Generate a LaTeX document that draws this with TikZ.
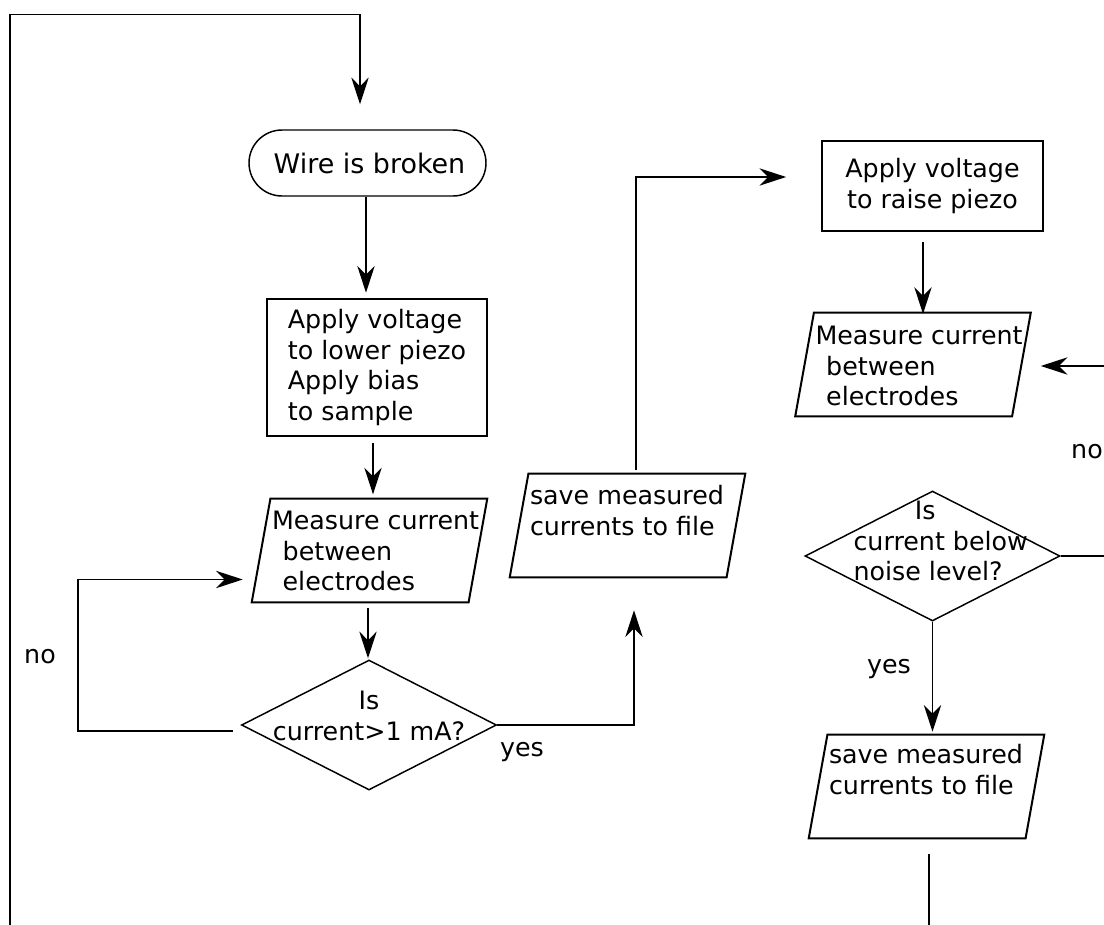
\documentclass[tikz,border=0pt]{standalone}
\usepackage{fontspec}
\setmainfont{DejaVu Sans}
\usetikzlibrary{shapes.misc,shapes.geometric,arrows.meta,calc}
\begin{document}
\begin{tikzpicture}[x=0.75pt,y=-0.75pt,
  every node/.style={font=\fontsize{19}{23.2}\selectfont},
  conn/.style={line width=1.1pt},
  arr/.style={conn,-{Stealth[length=20pt,width=13pt,inset=6.5pt]}},
  pbox/.style={draw=none,minimum width=176.25pt,minimum height=77.25pt,inner sep=0pt},
  pline/.style={line width=1.5pt,line join=miter},
  dia/.style={draw,diamond,line width=1.1pt,minimum width=191.25pt,minimum height=97.5pt,inner sep=0pt},
  txt/.style={align=left,inner sep=0pt,anchor=west},
  lbl/.style={inner sep=0pt}
]
\useasboundingbox (0,0) rectangle (1104,925);

% nodes
\node[draw,rounded rectangle,line width=1.1pt,minimum width=177.75pt,minimum height=49.5pt,inner sep=0pt,font=\fontsize{20.2}{23}\selectfont] (start) at (367.5,163) {\hspace*{3pt}Wire is broken};
\node[draw,line width=2pt,minimum width=165pt,minimum height=102.75pt,inner sep=0pt,align=left] (box1) at (377,367.5) {Apply voltage\\to lower piezo\\Apply bias\\to sample};
\node[draw,line width=1.3pt,minimum width=165.75pt,minimum height=67.5pt,inner sep=0pt,align=center] (box2) at (932.5,186) {Apply voltage\\to raise piezo};

\node[pbox] (P1) at (369.5,550.5) {};
\node[pbox] (P2) at (627.5,525.5) {};
\node[pbox] (P3) at (913,364.5) {};
\node[pbox] (P4) at (926.5,786.5) {};
\foreach \p in {P1,P2,P3,P4}{
  \draw[pline] ([xshift=14pt]\p.north west) -- (\p.north east) -- ([xshift=-14pt]\p.south east) -- (\p.south west) -- cycle;
}
\node[txt] (P1t) at ($(P1.west)+(20,0.5)$) {Measure current\\\hspace*{8pt}between\\\hspace*{8pt}electrodes};
\node[txt] (P2t) at ($(P2.west)+(20,-15)$) {save measured\\currents to file};
\node[txt] (P3t) at ($(P3.west)+(20,1.5)$) {Measure current\\\hspace*{8pt}between\\\hspace*{8pt}electrodes};
\node[txt] (P4t) at ($(P4.west)+(20,-16.5)$) {save measured\\currents to file};

\node[dia] (d1) at (369,725) {};
\node[dia] (d2) at (932.5,556) {};
\node[align=center,inner sep=0pt] (d1t) at ($(d1.center)+(0,-9.5)$) {Is\\current>1 mA?};
\node[txt] (d2t) at ($(d2.west)+(49,-15)$) {\hspace*{46pt}Is\\current below\\noise level?};

% labels
\node[lbl] (no1) at (40,657) {no};
\node[lbl] (yes1) at (522,752) {yes};
\node[lbl] (no2) at (1087,452) {no};
\node[lbl] (yes2) at (889,669) {yes};

% free ends
\coordinate (lbot) at (10,925);
\coordinate (rin) at (1104,366);
\coordinate (rout) at (1104,556);
\coordinate (bot) at (929,925);

% connectors
\draw[arr] (lbot) |- ($(start.north)+(-7.5,-115)$) -- ($(start.north)+(-7.5,-25)$);
\draw[arr] ($(start.south)+(-1.5,0)$) -- ($(start.south)+(-1.5,96)$);
\draw[arr] ($(box1.south)+(-4,6)$) -- ($(box1.south)+(-4,57)$);
\draw[arr] ($(P1.south)+(-1.5,6)$) -- ($(d1.north)+(-1,-1)$);
\draw[arr] ($(d1.west)+(-8,6)$) -- ++(-155,0) |- ($(P1.west)+(-9,29)$);
\draw[arr] (d1.east) -| ($(P2.south)+(6.5,33)$);
\draw[arr] ($(P2.north)+(8.5,-4)$) |- ($(box2.west)+(-35,-9)$);
\draw[arr] ($(box2.south)+(-9.5,10)$) -- ($(box2.south)+(-9.5,82)$);
\draw[arr] (rin) -- ($(P3.east)+(10,1.5)$);
\draw[conn] (d2.east) -- (rout);
\draw[arr] (d2.south) -- ($(d2.south)+(0,110)$);
\draw[conn] ($(P4.south)+(2.5,16)$) -- (bot);
\end{tikzpicture}
\end{document}
